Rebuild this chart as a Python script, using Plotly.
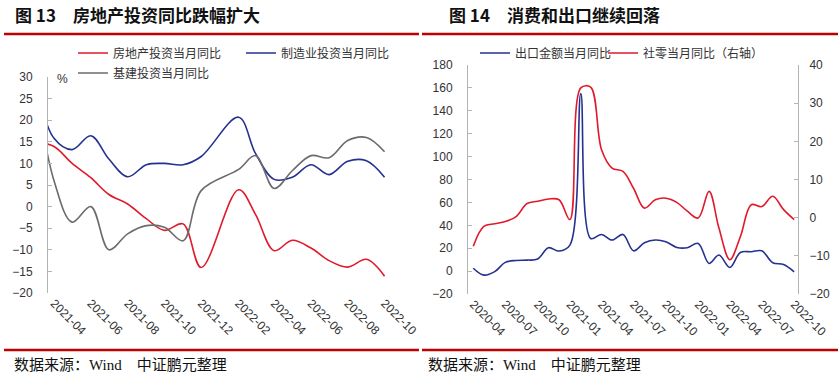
import plotly.graph_objects as go

W, H = 840, 376

# ---------------- Data: 图13 (monthly YoY, %) ----------------
inv_months = ["2021-03", "2021-04", "2021-05", "2021-06", "2021-07", "2021-08",
              "2021-09", "2021-10", "2021-11", "2021-12", "2022-02", "2022-03",
              "2022-04", "2022-05", "2022-06", "2022-07", "2022-08", "2022-09",
              "2022-10"]
real_estate = [15.0, 13.9, 10.0, 6.7, 2.8, 0.6, -2.8, -5.5, -4.0, -14.1,
               3.9, -1.8, -10.2, -7.8, -9.6, -12.5, -14.0, -12.2, -16.1]
manufacturing = [29.0, 15.8, 13.2, 16.4, 11.0, 6.9, 9.7, 10.0, 9.7, 11.6,
                 20.7, 12.3, 6.3, 6.8, 9.7, 7.4, 10.5, 10.6, 6.8]
infrastructure = [28.0, 6.0, -3.6, 0.0, -10.0, -6.3, -4.4, -4.8, -7.9, 3.7,
                  8.6, 11.8, 4.2, 8.3, 11.8, 11.3, 15.3, 16.0, 12.7]

# ---------------- Data: 图14 (monthly YoY, %) ----------------
trade_months = ["2020-04", "2020-05", "2020-06", "2020-07", "2020-08", "2020-09",
                "2020-10", "2020-11", "2020-12", "2021-01", "2021-02", "2021-03",
                "2021-04", "2021-05", "2021-06", "2021-07", "2021-08", "2021-09",
                "2021-10", "2021-11", "2021-12", "2022-01", "2022-02", "2022-03",
                "2022-04", "2022-05", "2022-06", "2022-07", "2022-08", "2022-09",
                "2022-10"]
exports = [2.5, -3.5, -0.5, 7.6, 9.3, 9.6, 10.5, 20.4, 17.5,
           22.7, 155.0, 28.5, 32.0, 27.1, 32.0, 17.7, 24.7, 27.1, 25.6, 20.7, 20.4,
           24.2, 6.7, 14.0, 3.2, 16.3, 16.9, 17.7, 7.3, 5.8, -0.6]
retail = [-7.5, -2.3, -1.6, -1.0, 0.3, 3.7, 4.3, 4.9, 4.7,
          -0.5, 34.0, 34.2, 17.8, 13.0, 12.1, 7.7, 2.5, 4.7, 5.1, 4.0, 1.7,
          -0.1, 6.9, -2.7, -11.0, -5.0, 3.4, 2.9, 5.6, 2.1, -0.5]

RED = "#E0192B"
BLUE = "#25318F"
GRAY = "#6B6B6B"
AX = "#B4B4B4"
ZL = "#A6A6A6"
TXT = "#333333"
DARKRED = "#C00000"
TICKFONT = dict(family="Liberation Sans, Arial, sans-serif", size=12, color=TXT)
LEGFONT = dict(family="Noto Sans CJK SC, sans-serif", size=12, color=TXT)


def px_x(p):
    return p / W


def px_y(p):
    return 1 - p / H


fig = go.Figure()
lw = 1.6
fig.add_trace(go.Scatter(x=inv_months, y=real_estate, name="房地产投资当月同比", mode="lines",
                         line=dict(color=RED, width=lw, shape="spline"),
                         xaxis="x", yaxis="y", legend="legend"))
fig.add_trace(go.Scatter(x=inv_months, y=manufacturing, name="制造业投资当月同比", mode="lines",
                         line=dict(color=BLUE, width=lw, shape="spline"),
                         xaxis="x", yaxis="y", legend="legend2"))
fig.add_trace(go.Scatter(x=inv_months, y=infrastructure, name="基建投资当月同比", mode="lines",
                         line=dict(color=GRAY, width=lw, shape="spline"),
                         xaxis="x", yaxis="y", legend="legend3"))
fig.add_trace(go.Scatter(x=trade_months, y=exports, name="出口金额当月同比", mode="lines",
                         line=dict(color=BLUE, width=lw, shape="spline"),
                         xaxis="x3", yaxis="y3", legend="legend4"))
fig.add_trace(go.Scatter(x=trade_months, y=retail, name="社零当月同比（右轴）", mode="lines",
                         line=dict(color=RED, width=lw, shape="spline"),
                         xaxis="x3", yaxis="y4", legend="legend5"))

left_range = ["2021-03-22", "2022-10-15"]
right_range = ["2020-03-17", "2022-10-12"]

common_y = dict(showline=True, linecolor=AX, linewidth=1, ticks="inside", ticklen=4,
                tickcolor=AX, showgrid=False, zeroline=False, tickfont=TICKFONT,
                automargin=False)


def leg(text_start_px, y_px):
    return dict(orientation="h", x=px_x(text_start_px - 44), y=px_y(y_px), xanchor="left",
                yanchor="middle", font=LEGFONT, bgcolor="rgba(0,0,0,0)", itemwidth=30)


fig.update_layout(
    template="none",
    width=W, height=H,
    margin=dict(l=0, r=0, t=0, b=0, pad=0, autoexpand=False),
    paper_bgcolor="white", plot_bgcolor="white",
    font=dict(family="Liberation Sans, Noto Sans CJK SC, sans-serif", color=TXT),
    xaxis=dict(domain=[px_x(48), px_x(393)], anchor="y", type="date", range=left_range,
               tickformat="%Y-%m", dtick="M2", tick0="2021-04-01", tickangle=45,
               showline=False, ticks="", showgrid=False, zeroline=False,
               tickfont=TICKFONT, automargin=False),
    xaxis2=dict(overlaying="x", anchor="free", position=px_y(206.6), side="bottom",
                type="date", range=left_range, dtick="M2", tick0="2021-03-20",
                ticks="inside", ticklen=4, tickcolor=ZL, showline=True, linecolor=ZL,
                linewidth=1, showticklabels=False, showgrid=False, zeroline=False,
                automargin=False),
    yaxis=dict(domain=[px_y(293), px_y(77)], anchor="x", range=[-20, 30], dtick=5,
               ticklabelstandoff=12, **common_y),
    xaxis3=dict(domain=[px_x(468), px_x(798)], anchor="y3", type="date", range=right_range,
                tickformat="%Y-%m", dtick="M3", tick0="2020-04-01", tickangle=45,
                showline=False, ticks="", showgrid=False, zeroline=False,
                tickfont=TICKFONT, automargin=False),
    xaxis4=dict(overlaying="x3", anchor="free", position=px_y(271), side="bottom",
                type="date", range=right_range, dtick="M3", tick0="2020-03-17",
                ticks="inside", ticklen=4, tickcolor=ZL, showline=True, linecolor=ZL,
                linewidth=1, showticklabels=False, showgrid=False, zeroline=False,
                automargin=False),
    yaxis3=dict(domain=[px_y(294), px_y(65)], anchor="x3", range=[-20, 180], dtick=20,
                ticklabelstandoff=12, **common_y),
    yaxis4=dict(overlaying="y3", anchor="x3", side="right", range=[-20, 40], dtick=10,
                ticklabelstandoff=8, **common_y),
    legend=leg(117, 53),
    legend2=leg(285, 53),
    legend3=leg(117, 73),
    legend4=leg(519, 53),
    legend5=leg(647, 53),
    showlegend=True,
)

TITLEFONT = dict(family="Noto Sans CJK SC, sans-serif", size=17, color="#111111", weight="bold")
FOOTFONT = dict(family="Liberation Serif, Noto Sans CJK SC, serif", size=15, color="#111111")

annotations = [
    dict(text="图 13　房地产投资同比跌幅扩大", x=px_x(13), y=px_y(15), xanchor="left",
         yanchor="middle", showarrow=False, font=TITLEFONT),
    dict(text="图 14　消费和出口继续回落", x=px_x(447), y=px_y(15), xanchor="left",
         yanchor="middle", showarrow=False, font=TITLEFONT),
    dict(text="%", x=px_x(55), y=px_y(79), xanchor="left", yanchor="middle", showarrow=False,
         font=TICKFONT),
    dict(text="数据来源：Wind　中证鹏元整理", x=px_x(12), y=px_y(365), xanchor="left",
         yanchor="middle", showarrow=False, font=FOOTFONT),
    dict(text="数据来源：Wind　中证鹏元整理", x=px_x(426), y=px_y(365), xanchor="left",
         yanchor="middle", showarrow=False, font=FOOTFONT),
]
for a in annotations:
    a["xref"] = "paper"
    a["yref"] = "paper"
fig.update_layout(annotations=annotations)

shapes = []
for (x0, x1) in [(4, 419), (422, 838)]:
    shapes.append(dict(type="line", xref="paper", yref="paper", x0=px_x(x0), x1=px_x(x1),
                       y0=px_y(34), y1=px_y(34), line=dict(color=DARKRED, width=2.5)))
    shapes.append(dict(type="line", xref="paper", yref="paper", x0=px_x(x0), x1=px_x(x1),
                       y0=px_y(350), y1=px_y(350), line=dict(color=DARKRED, width=2.5)))
fig.update_layout(shapes=shapes)

fig.write_html("out.html", config={"displayModeBar": False},
               post_script="document.body.style.margin='0';document.body.style.overflow='hidden';")
